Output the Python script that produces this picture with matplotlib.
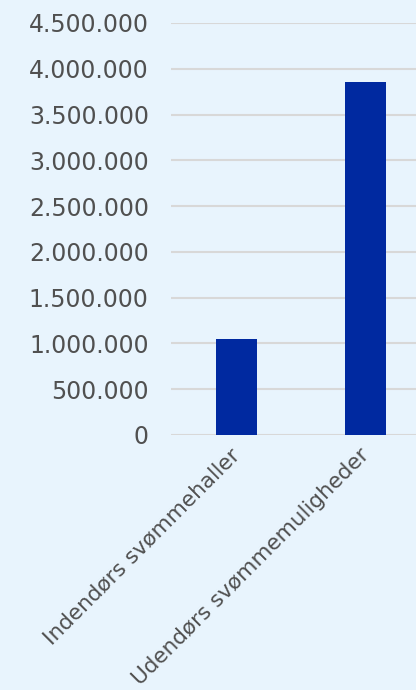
import matplotlib
matplotlib.use("Agg")
import matplotlib.pyplot as plt
from matplotlib.ticker import FuncFormatter, MultipleLocator

categories = ["Indendørs svømmehaller", "Udendørs svømmemuligheder"]
values = [1048000, 3856000]

bg = "#e8f4fd"
bar_color = "#0029a0"
text_color = "#505050"

fig = plt.figure(figsize=(4.16, 6.9), dpi=100, facecolor=bg)
ax = fig.add_axes([171/416, 1-435/690, 1-171/416, 412/690], facecolor=bg)

x = list(range(len(categories)))
ax.bar(x, values, width=0.318, color=bar_color, zorder=3)
ax.set_xlim(-0.508, 1.39)
ax.set_ylim(0, 4500000)
ax.yaxis.set_major_locator(MultipleLocator(500000))
ax.yaxis.set_major_formatter(FuncFormatter(lambda v, p: f"{int(v):,}".replace(",", ".")))
ax.grid(axis="y", color="#d8d8d8", linewidth=1.5, zorder=0)
for s in ax.spines.values():
    s.set_visible(False)
ax.tick_params(axis="y", length=0, pad=16, labelsize=17, labelcolor=text_color)
ax.tick_params(axis="x", length=0, pad=12, labelsize=15.5, labelcolor=text_color)
ax.set_xticks(x)
ax.set_xticklabels(categories, rotation=45, ha="right", va="center", rotation_mode="anchor")

fig.savefig("out.png", dpi=100, facecolor=bg)
